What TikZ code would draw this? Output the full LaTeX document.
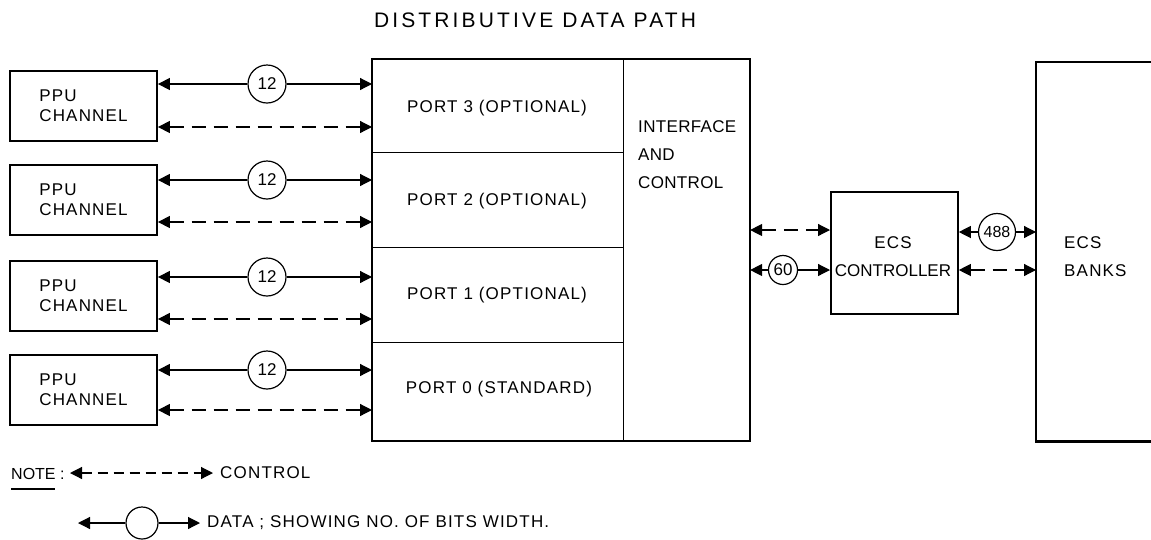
\documentclass[tikz,border=0pt]{standalone}
\usepackage{fontspec}
\setmainfont{Liberation Sans}
\newfontfamily\lblfont[LetterSpace=7]{Liberation Sans}
\newfontfamily\tightfont[LetterSpace=2]{Liberation Sans}
\newfontfamily\titlefont[LetterSpace=15]{Liberation Sans}
\usetikzlibrary{arrows.meta}
\begin{document}
\begin{tikzpicture}[x=1pt,y=-1pt,
  lbl/.style={font={\lblfont\fontsize{17}{20}\selectfont}, inner sep=0pt},
  ppubox/.style={draw, line width=1.8pt, minimum width=147pt, minimum height=70pt, inner sep=0pt, align=left, font={\lblfont\fontsize{17}{20}\selectfont}},
  portbox/.style={draw, line width=1.1pt, inner sep=0pt, anchor=north west, minimum width=251pt, font={\lblfont\fontsize{17}{20}\selectfont}},
  bits/.style={draw, circle, line width=1.2pt, inner sep=0pt, font={\fontsize{17}{18}\selectfont}},
  dataline/.style={line width=1.2pt, -{Triangle[length=12pt,width=12pt]}},
  ctrlline/.style={line width=1.2pt, dash pattern=on 14pt off 8pt, {Triangle[length=12pt,width=12pt]}-{Triangle[length=12pt,width=12pt]}},
]
\useasboundingbox (0,0) rectangle (1151,539);

% title
\node[font={\titlefont\fontsize{21}{22}\selectfont}, inner sep=0pt] (title) at (535,20) {DISTRIBUTIVE DATA PATH};

% PPU channels
\node[ppubox] (ppu3) at (83.5,106) {PPU\\CHANNEL};
\node[ppubox] (ppu2) at (83.5,200) {PPU\\CHANNEL};
\node[ppubox] (ppu1) at (83.5,296) {PPU\\CHANNEL};
\node[ppubox] (ppu0) at (83.5,390) {PPU\\CHANNEL};

% ports
\node[portbox, minimum height=93pt] (p3) at (372,59) {};
\node[portbox, minimum height=95pt] (p2) at (372,152) {};
\node[portbox, minimum height=95pt] (p1) at (372,247) {};
\node[portbox, minimum height=98pt] (p0) at (372,342) {};
\node[lbl] (p3t) at (497,108) {PORT 3 (OPTIONAL)};
\node[lbl] (p2t) at (497,201) {PORT 2 (OPTIONAL)};
\node[lbl] (p1t) at (497,295) {PORT 1 (OPTIONAL)};
\node[lbl] (p0t) at (499,389) {PORT 0 (STANDARD)};
\node[draw, line width=1.1pt, inner sep=0pt, anchor=north west, minimum width=126pt, minimum height=381pt] (iface) at (623,59) {};
\draw[line width=2.2pt] (p3.north west) rectangle (iface.south east);
\node[inner sep=0pt, anchor=west, align=left, font={\tightfont\fontsize{17}{28}\selectfont}] (ifacetext) at (638,155) {INTERFACE\\AND\\CONTROL};

% PPU connections
\foreach \i/\p/\ys/\yd in {3/p3/84/127, 2/p2/180/222, 1/p1/277/319, 0/p0/370/410}{
  \node[bits, minimum size=38pt] (c\i) at (267,\ys) {12};
  \draw[dataline] (c\i) -- (ppu\i.east |- c\i);
  \draw[dataline] (c\i) -- (\p.west |- c\i);
  \draw[ctrlline] (ppu\i.east |- 0,\yd) -- (\p.west |- 0,\yd);
}

% ECS controller
\node[draw, line width=1.8pt, inner sep=0pt, anchor=north west, minimum width=127pt, minimum height=122pt] (ctrl) at (830,191) {};
\node[inner sep=0pt, align=center, font={\fontsize{17}{28}\selectfont}] (ctrltext) at (893,257) {{\lblfont ECS}\\CONTROLLER};

% ECS banks
\node[inner sep=0pt, anchor=north west, minimum width=116pt, minimum height=379pt] (banks) at (1036,62) {};
\draw[line width=2.2pt] (banks.north east) -- (banks.north west) -- (banks.south west) -- (banks.south east);
\node[lbl, anchor=west, align=left, font={\lblfont\fontsize{17}{28}\selectfont}] (bankstext) at (1064,257) {ECS\\BANKS};

% interface <-> controller
\draw[ctrlline] (iface.east |- 0,230) -- (ctrl.west |- 0,230);
\node[bits, minimum size=29pt] (c60) at (783,270) {60};
\draw[dataline] (c60) -- (iface.east |- c60);
\draw[dataline] (c60) -- (ctrl.west |- c60);

% controller <-> banks
\node[bits, minimum size=37pt, font={\fontsize{16}{17}\selectfont}] (c488) at (997,232) {488};
\draw[dataline] (c488) -- (ctrl.east |- c488);
\draw[dataline] (c488) -- (banks.west |- c488);
\draw[ctrlline] (ctrl.east |- 0,270) -- (banks.west |- 0,270);

% legend
\node[inner sep=0pt, anchor=west, font={\fontsize{16}{20}\selectfont}] (note) at (11,474) {NOTE :};
\draw[line width=1.4pt] (11,489) -- (55,489);
\coordinate (la) at (70,473);
\node[lbl, anchor=west] (lctrl) at (220,473) {CONTROL};
\draw[ctrlline, dash pattern=on 10pt off 6pt] (la) -- ([xshift=-7pt]lctrl.west);
\node[draw, circle, line width=1.2pt, minimum size=32pt, inner sep=0pt] (lc) at (142,523) {};
\coordinate (ld) at (78,523);
\node[lbl, anchor=west] (ldata) at (207,523) {DATA ; SHOWING NO. OF BITS WIDTH.};
\draw[dataline] (lc) -- (ld);
\draw[dataline] (lc) -- ([xshift=-7pt]ldata.west);
\end{tikzpicture}
\end{document}
